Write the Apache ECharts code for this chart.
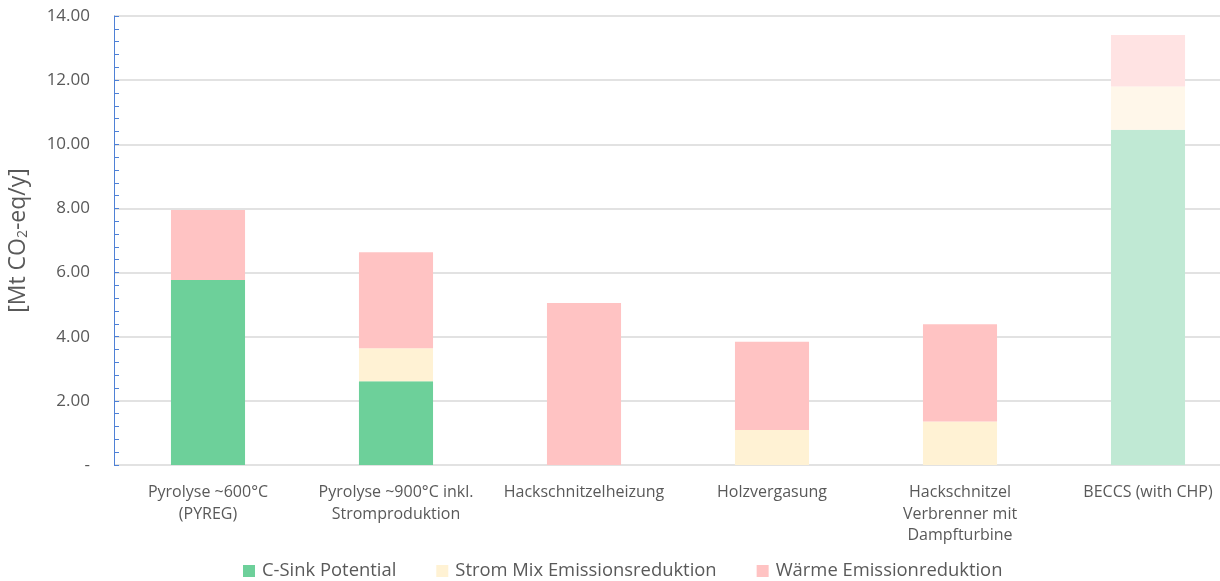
<!DOCTYPE html>
<html>
<head>
<meta charset="utf-8">
<script src="https://cdn.jsdelivr.net/npm/echarts@6/dist/echarts.min.js"></script>
<style>
  html, body { margin: 0; padding: 0; background: #ffffff; }
  #chart { width: 1220px; height: 581px; }
</style>
</head>
<body>
<div id="chart"></div>
<script>
// Technologies compared (x-axis categories)
const categories = [
  'Pyrolyse ~600°C\n(PYREG)',
  'Pyrolyse ~900°C inkl.\nStromproduktion',
  'Hackschnitzelheizung',
  'Holzvergasung',
  'Hackschnitzel\nVerbrenner mit\nDampfturbine',
  'BECCS (with CHP)'
];

// Stacked components in Mt CO2-eq per year
const cSink = [5.77, 2.61, 0, 0, 0, 10.45];
const stromMix = [0, 1.03, 0, 1.09, 1.36, 1.35];
const waerme = [2.18, 2.99, 5.05, 2.75, 3.03, 1.61];

const seriesNames = ['C-Sink Potential', 'Strom Mix Emissionsreduktion', 'Wärme Emissionreduktion'];
const colors = ['#6dd09a', '#fff2d4', '#ffc3c3'];
// BECCS is drawn in paler tones
const paleColors = ['#c0e9d4', '#fff7ea', '#ffe3e3'];
const paleIndex = 5;

const textColor = '#595959';
const font = 'Open Sans';

function makeSeries(name, values, i) {
  return {
    name: name,
    type: 'bar',
    stack: 'total',
    barWidth: '39.4%',
    itemStyle: { color: colors[i] },
    data: values.map((v, k) => k === paleIndex
      ? { value: v, itemStyle: { color: paleColors[i] } }
      : v)
  };
}

const chart = echarts.init(document.getElementById('chart'), null, { renderer: 'canvas' });
chart.setOption({
  animation: false,
  textStyle: { fontFamily: font, color: textColor },
  // the plot area runs past the right edge of the canvas
  grid: { left: 114, top: 16, right: -22, bottom: 116, outerBoundsMode: 'none', containLabel: false },
  legend: {
    bottom: -4,
    left: 238,
    itemWidth: 12,
    itemHeight: 12,
    itemGap: 40,
    icon: 'rect',
    textStyle: { fontFamily: font, fontSize: 18.4, color: textColor, padding: [0, 0, 0, 2] },
    data: seriesNames
  },
  xAxis: {
    type: 'category',
    data: categories,
    axisLine: { show: false },
    axisTick: { show: false },
    axisLabel: {
      interval: 0,
      margin: 17,
      fontFamily: font,
      fontSize: 16,
      lineHeight: 21.5,
      color: textColor
    }
  },
  yAxis: {
    type: 'value',
    min: 0,
    max: 14,
    interval: 2,
    name: '[Mt CO{sub|2}-eq/y]',
    nameLocation: 'middle',
    nameGap: 84,
    nameRotate: 90,
    nameTextStyle: {
      fontFamily: font,
      fontSize: 23,
      color: textColor,
      rich: {
        sub: { fontSize: 14, verticalAlign: 'bottom', padding: [10, 0, 0, 0], color: textColor, fontFamily: font }
      }
    },
    axisLine: { show: true, lineStyle: { color: '#4f81d6', width: 1 } },
    axisTick: { show: true, inside: true, length: 5, lineStyle: { color: '#4f81d6' } },
    minorTick: { show: true, splitNumber: 5, length: 5, lineStyle: { color: '#4f81d6' } },
    splitLine: { show: true, lineStyle: { color: '#d9d9d9', width: 1.5 } },
    axisLabel: {
      margin: 24,
      fontFamily: font,
      fontSize: 17,
      color: textColor,
      formatter: v => v === 0 ? '-' : v.toFixed(2)
    }
  },
  series: [
    makeSeries(seriesNames[0], cSink, 0),
    makeSeries(seriesNames[1], stromMix, 1),
    makeSeries(seriesNames[2], waerme, 2)
  ]
});
</script>
</body>
</html>
